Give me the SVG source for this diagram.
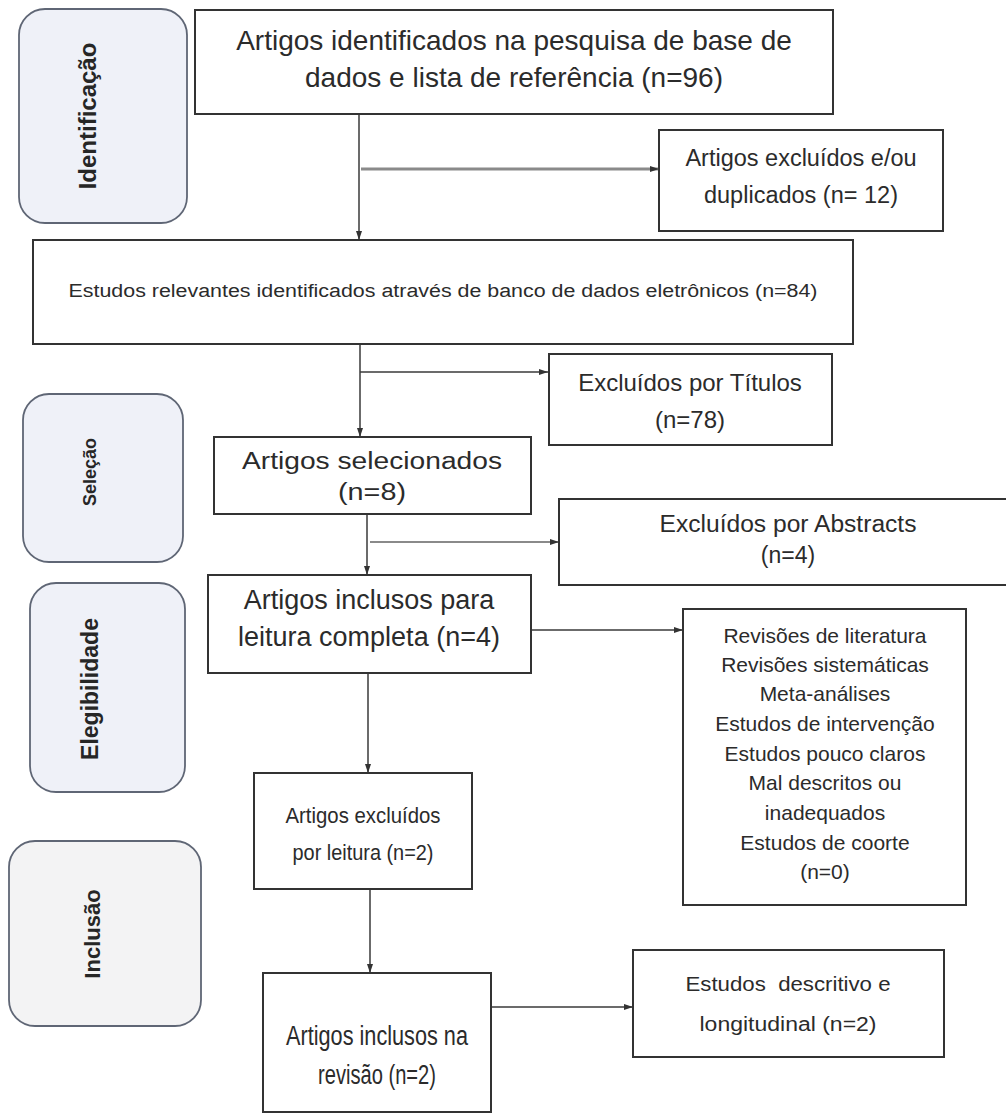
<svg xmlns="http://www.w3.org/2000/svg" width="1006" height="1120" viewBox="0 0 1006 1120">
<style>
  .box { fill: #ffffff; stroke: #333333; stroke-width: 2; }
  .side { fill: #eff1f8; stroke: #5f6675; stroke-width: 1.8; }
  .side2 { fill: #f3f3f4; stroke: #5f6675; stroke-width: 1.8; }
  .lbl { font-family: "Liberation Sans", Arial, sans-serif; font-weight: bold; fill: #262626; text-anchor: middle; }
  .t { font-family: "Liberation Sans", Arial, sans-serif; fill: #2b2b2b; text-anchor: middle; }
  .conn { stroke: #3a3a3a; stroke-width: 1.5; fill: none; marker-end: url(#arr); }
  .conng { stroke: #8a8a8a; stroke-width: 3; fill: none; marker-end: url(#arr); }
</style>
<defs>
  <marker id="arr" markerUnits="userSpaceOnUse" markerWidth="10" markerHeight="8" refX="9" refY="4" orient="auto">
    <path d="M0,1 L9,4 L0,7 z" fill="#333333"/>
  </marker>
</defs>
<rect width="1006" height="1120" fill="#ffffff"/>

<g id="side-identificacao">
  <rect class="side" x="19" y="9" width="168" height="214" rx="26"/>
  <text class="lbl" font-size="24" transform="translate(96,116) rotate(-90)">Identificação</text>
</g>
<g id="side-selecao">
  <rect class="side" x="23" y="394" width="160" height="168" rx="26"/>
  <text class="lbl" font-size="18" transform="translate(96,472) rotate(-90)">Seleção</text>
</g>
<g id="side-elegibilidade">
  <rect class="side" x="30" y="583" width="155" height="209" rx="26"/>
  <text class="lbl" font-size="23" transform="translate(98,689) rotate(-90)">Elegibilidade</text>
</g>
<g id="side-inclusao">
  <rect class="side2" x="9" y="841" width="192" height="185" rx="26"/>
  <text class="lbl" font-size="22" transform="translate(100,934) rotate(-90)">Inclusão</text>
</g>

<g id="connectors">
  <line class="conn" x1="359" y1="114" x2="359" y2="240"/>
  <line class="conng" x1="361" y1="169" x2="659" y2="169"/>
  <line class="conn" x1="360" y1="344" x2="360" y2="437"/>
  <line class="conn" x1="360" y1="372" x2="548" y2="372"/>
  <line class="conn" x1="367" y1="514" x2="367" y2="575"/>
  <line class="conng" x1="370" y1="542" x2="559" y2="542" style="stroke-width:2.2"/>
  <line class="conn" x1="531" y1="630" x2="683" y2="630"/>
  <line class="conn" x1="368" y1="673" x2="368" y2="773"/>
  <line class="conn" x1="370" y1="889" x2="370" y2="973"/>
  <line class="conn" x1="491" y1="1007" x2="633" y2="1007"/>
</g>

<g id="n-identificados">
  <rect class="box" x="195" y="10" width="638" height="104"/>
  <text class="t" font-size="28" x="514" y="50">Artigos identificados na pesquisa de base de</text>
  <text class="t" font-size="28" x="514" y="87">dados e lista de referência (n=96)</text>
</g>
<g id="n-excluidos-duplicados">
  <rect class="box" x="659" y="130" width="284" height="101"/>
  <text class="t" font-size="23.5" x="801" y="166">Artigos excluídos e/ou</text>
  <text class="t" font-size="23.5" x="801" y="203">duplicados (n= 12)</text>
</g>
<g id="n-estudos-relevantes">
  <rect class="box" x="33" y="240" width="820" height="104"/>
  <text class="t" font-size="18" x="443" y="297" textLength="749" lengthAdjust="spacingAndGlyphs">Estudos relevantes identificados através de banco de dados eletrônicos (n=84)</text>
</g>
<g id="n-excluidos-titulos">
  <rect class="box" x="549" y="354" width="283" height="91"/>
  <text class="t" font-size="24" x="690" y="391">Excluídos por Títulos</text>
  <text class="t" font-size="24" x="690" y="428">(n=78)</text>
</g>
<g id="n-selecionados">
  <rect class="box" x="214" y="437" width="317" height="77"/>
  <text class="t" font-size="23" x="372" y="469" textLength="260" lengthAdjust="spacingAndGlyphs">Artigos selecionados</text>
  <text class="t" font-size="23" x="372" y="500" textLength="68" lengthAdjust="spacingAndGlyphs">(n=8)</text>
</g>
<g id="n-excluidos-abstracts">
  <rect class="box" x="559" y="499" width="460" height="86"/>
  <text class="t" font-size="23" x="788" y="532" textLength="257" lengthAdjust="spacingAndGlyphs">Excluídos por Abstracts</text>
  <text class="t" font-size="23" x="788" y="563">(n=4)</text>
</g>
<g id="n-leitura-completa">
  <rect class="box" x="208" y="575" width="323" height="98"/>
  <text class="t" font-size="27" x="369" y="609">Artigos inclusos para</text>
  <text class="t" font-size="27" x="369" y="646">leitura completa (n=4)</text>
</g>
<g id="n-criterios-exclusao">
  <rect class="box" x="683" y="609" width="283" height="296"/>
  <text class="t" font-size="21" x="825" y="643">Revisões de literatura</text>
  <text class="t" font-size="21" x="825" y="672">Revisões sistemáticas</text>
  <text class="t" font-size="21" x="825" y="701">Meta-análises</text>
  <text class="t" font-size="21" x="825" y="731">Estudos de intervenção</text>
  <text class="t" font-size="21" x="825" y="761">Estudos pouco claros</text>
  <text class="t" font-size="21" x="825" y="790">Mal descritos ou</text>
  <text class="t" font-size="21" x="825" y="820">inadequados</text>
  <text class="t" font-size="21" x="825" y="850">Estudos de coorte</text>
  <text class="t" font-size="21" x="825" y="879">(n=0)</text>
</g>
<g id="n-excluidos-leitura">
  <rect class="box" x="254" y="773" width="218" height="116"/>
  <text class="t" font-size="22" x="363" y="823" textLength="155" lengthAdjust="spacingAndGlyphs">Artigos excluídos</text>
  <text class="t" font-size="22" x="363" y="860" textLength="141" lengthAdjust="spacingAndGlyphs">por leitura (n=2)</text>
</g>
<g id="n-inclusos-revisao">
  <rect class="box" x="263" y="973" width="228" height="139"/>
  <text class="t" font-size="27" x="377" y="1045" textLength="182" lengthAdjust="spacingAndGlyphs">Artigos inclusos na</text>
  <text class="t" font-size="27" x="377" y="1084" textLength="118" lengthAdjust="spacingAndGlyphs">revisão (n=2)</text>
</g>
<g id="n-descritivo-longitudinal">
  <rect class="box" x="633" y="950" width="311" height="107"/>
  <text class="t" font-size="20" x="788" y="991" textLength="205" lengthAdjust="spacingAndGlyphs" xml:space="preserve">Estudos  descritivo e</text>
  <text class="t" font-size="20" x="788" y="1031" textLength="177" lengthAdjust="spacingAndGlyphs">longitudinal (n=2)</text>
</g>
</svg>
